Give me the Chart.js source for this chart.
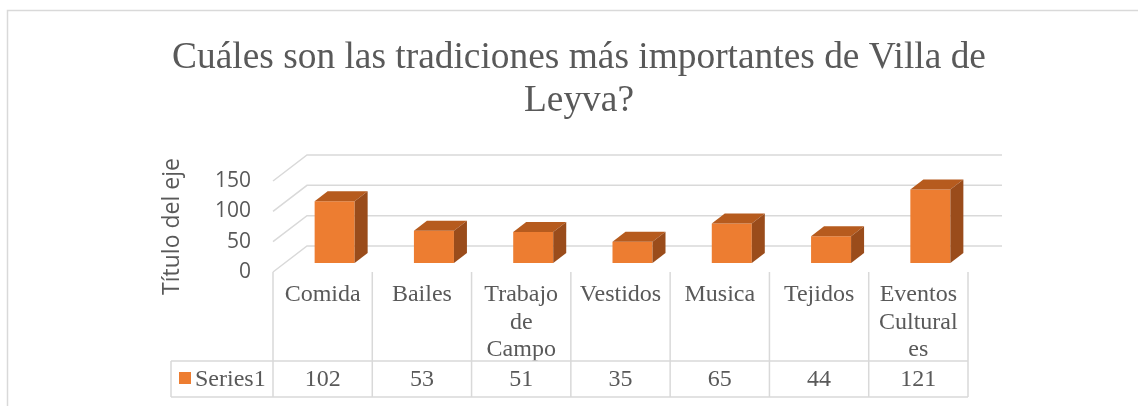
<!DOCTYPE html>
<html>
<head>
<meta charset="utf-8">
<script src="https://cdn.jsdelivr.net/npm/chart.js@4.4.1/dist/chart.umd.min.js"></script>
<style>
  html, body { margin: 0; padding: 0; background: #ffffff; }
  #wrap { width: 1138px; height: 406px; }
</style>
</head>
<body>
<div id="wrap"><canvas id="chart" width="1138" height="406"></canvas></div>
<script>
const titleLines = ["Cuáles son las tradiciones más importantes de Villa de", "Leyva?"];
const categories = ["Comida", "Bailes", ["Trabajo", "de", "Campo"], "Vestidos", "Musica", "Tejidos", ["Eventos", "Cultural", "es"]];
const seriesName = "Series1";
const values = [102, 53, 51, 35, 65, 44, 121];
const yTicks = [0, 50, 100, 150];
const yTitle = "Título del eje";

const orange = "#ED7D31";
const orangeTop = "#B65B1E";
const orangeSide = "#9A4C1B";
const lineGray = "#D9D9D9";
const textGray = "#595959";

// fake 3D depth
const depthX = 34, depthY = 26;      // floor depth (front to back wall)
const barShiftX = 12, barShiftY = 9;  // bar front face inside the floor
const barDepthX = 13, barDepthY = 10;

const depthPlugin = {
    id: "depth",
    beforeDraw(chart) {
        const ctx = chart.ctx;
        ctx.save();
        ctx.strokeStyle = lineGray;
        ctx.lineWidth = 1.5;
        ctx.beginPath();
        ctx.moveTo(7.5, chart.height);
        ctx.lineTo(7.5, 10.5);
        ctx.lineTo(chart.width, 10.5);
        ctx.stroke();

        const { left, right } = chart.chartArea;
        const y = chart.scales.y;
        yTicks.forEach(t => {
            const py = y.getPixelForValue(t);
            ctx.beginPath();
            ctx.moveTo(left, py);
            ctx.lineTo(left + depthX, py - depthY);
            ctx.lineTo(right + depthX, py - depthY);
            ctx.stroke();
        });
        ctx.restore();
    },
    beforeDatasetsDraw(chart) {
        chart.ctx.save();
        chart.ctx.translate(barShiftX, -barShiftY);
    },
    afterDatasetsDraw(chart) {
        const ctx = chart.ctx;
        chart.getDatasetMeta(0).data.forEach(bar => {
            const x1 = bar.x - bar.width / 2;
            const x2 = bar.x + bar.width / 2;
            ctx.fillStyle = orangeTop;
            ctx.beginPath();
            ctx.moveTo(x1, bar.y);
            ctx.lineTo(x2, bar.y);
            ctx.lineTo(x2 + barDepthX, bar.y - barDepthY);
            ctx.lineTo(x1 + barDepthX, bar.y - barDepthY);
            ctx.closePath();
            ctx.fill();
            ctx.fillStyle = orangeSide;
            ctx.beginPath();
            ctx.moveTo(x2, bar.y);
            ctx.lineTo(x2 + barDepthX, bar.y - barDepthY);
            ctx.lineTo(x2 + barDepthX, bar.base - barDepthY);
            ctx.lineTo(x2, bar.base);
            ctx.closePath();
            ctx.fill();
        });
        ctx.restore();
    },
    afterDraw(chart) {
        // data table under the plot
        const ctx = chart.ctx;
        const x = chart.scales.x;
        const { left, right, bottom } = chart.chartArea;
        const colW = (right - left) / categories.length;
        const rowTop = 361, rowBottom = 397, legendLeft = 171;
        ctx.save();
        ctx.strokeStyle = lineGray;
        ctx.lineWidth = 1.5;
        ctx.beginPath();
        ctx.moveTo(legendLeft, rowTop);
        ctx.lineTo(right, rowTop);
        ctx.moveTo(legendLeft, rowBottom);
        ctx.lineTo(right, rowBottom);
        ctx.moveTo(legendLeft, rowTop);
        ctx.lineTo(legendLeft, rowBottom);
        for (let i = 0; i <= categories.length; i++) {
            const cx = left + i * colW;
            ctx.moveTo(cx, bottom);
            ctx.lineTo(cx, rowBottom);
        }
        ctx.stroke();

        ctx.font = "24px 'Liberation Serif', 'Times New Roman', serif";
        ctx.fillStyle = textGray;
        ctx.textAlign = "center";
        ctx.textBaseline = "middle";
        const midY = (rowTop + rowBottom) / 2 + 1;
        values.forEach((v, i) => {
            ctx.fillText(String(v), x.getPixelForValue(i), midY);
        });
        ctx.fillStyle = orange;
        ctx.fillRect(179, 372, 12, 12);
        ctx.fillStyle = textGray;
        ctx.textAlign = "left";
        ctx.fillText(seriesName, 195, midY);
        ctx.restore();
    }
};

new Chart(document.getElementById("chart"), {
    type: "bar",
    data: {
        labels: categories,
        datasets: [{
            label: seriesName,
            data: values,
            backgroundColor: orange,
            borderWidth: 0,
            categoryPercentage: 1,
            barPercentage: 0.403,
            clip: false
        }]
    },
    options: {
        responsive: false,
        animation: false,
        layout: { padding: { left: 20, right: 0, top: 10, bottom: 0 } },
        plugins: {
            legend: { display: false },
            tooltip: { enabled: false },
            title: {
                display: true,
                text: titleLines,
                color: textGray,
                font: { family: "'Liberation Serif', 'Times New Roman', serif", size: 37.4, weight: "normal", lineHeight: 1.15 },
                padding: { top: 26.5, bottom: 58.5 }
            }
        },
        scales: {
            x: {
                grid: { display: false },
                border: { display: false },
                ticks: {
                    color: textGray,
                    padding: 1,
                    maxRotation: 0,
                    autoSkip: false,
                    font: { family: "'Liberation Serif', 'Times New Roman', serif", size: 24, lineHeight: 1.15 }
                },
                afterFit: s => { s.height = 134; }
            },
            y: {
                min: 0,
                max: 150,
                grid: { display: false },
                border: { display: false },
                ticks: {
                    stepSize: 50,
                    padding: 14,
                    color: textGray,
                    font: { family: "'Open Sans', sans-serif", size: 21 }
                },
                title: {
                    display: true,
                    text: yTitle,
                    color: textGray,
                    font: { family: "'Open Sans', sans-serif", size: 23, lineHeight: 1.2 },
                    padding: { top: 139, bottom: 0 }
                },
                afterFit: s => { s.width = 253; }
            },
            yRight: {
                position: "right",
                display: true,
                grid: { display: false },
                border: { display: false },
                ticks: { display: false },
                afterFit: s => { s.width = 170; }
            }
        }
    },
    plugins: [depthPlugin]
});
</script>
</body>
</html>
